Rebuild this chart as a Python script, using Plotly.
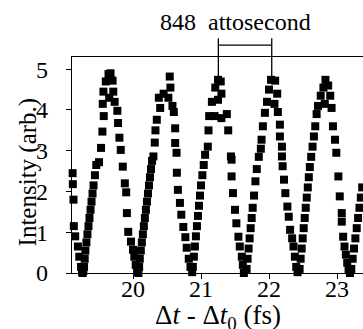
import plotly.graph_objects as go

# ---- data ----
delay_fs = [
    19.112, 19.115, 19.125, 19.13, 19.15, 19.19, 19.21, 19.235, 19.25, 19.26, 19.27,
    19.28, 19.29, 19.30, 19.315, 19.33, 19.345, 19.36, 19.375, 19.39, 19.405, 19.42, 19.44, 19.46, 19.50, 19.53, 19.55,
    19.57, 19.555, 19.565, 19.60, 19.64, 19.67, 19.70, 19.71, 19.65, 19.73, 19.77,
    19.78, 19.80, 19.82, 19.85, 19.88, 19.90, 19.91, 19.93, 19.97, 20.00, 20.02, 20.04, 20.06, 20.08,
    20.09, 20.10, 20.115, 20.13, 20.145, 20.16, 20.175, 20.19, 20.205, 20.22, 20.235, 20.25, 20.265, 20.28, 20.30, 20.32, 20.33, 20.35,
    20.40, 20.38, 20.45, 20.52, 20.55, 20.54, 20.58, 20.60,
    20.62, 20.62, 20.64, 20.645, 20.66, 20.69, 20.71, 20.74, 20.77, 20.79, 20.82, 20.845, 20.87,
    20.88, 20.895, 20.91, 20.925, 20.94, 20.955, 20.97, 20.985, 21.00, 21.02, 21.04, 21.06, 21.10, 21.11,
    21.12, 21.20, 21.30, 21.16, 21.25, 21.30, 21.21, 21.25, 21.29, 21.38,
    21.40, 21.44, 21.45, 21.45, 21.47, 21.50, 21.52, 21.55, 21.57, 21.60, 21.615, 21.63,
    21.67, 21.685, 21.70, 21.715, 21.73, 21.745, 21.76, 21.78, 21.80, 21.82, 21.85, 21.88, 21.89, 21.91, 21.94,
    21.97, 22.00, 22.03, 22.09, 22.12, 22.08, 22.13,
    22.16, 22.16, 22.19, 22.19, 22.20, 22.22, 22.24, 22.27, 22.29, 22.31, 22.34, 22.36, 22.38, 22.40, 22.42,
    22.45, 22.465, 22.48, 22.495, 22.51, 22.525, 22.54, 22.555, 22.57, 22.585, 22.60, 22.62, 22.64, 22.66, 22.68, 22.70,
    22.72, 22.76, 22.80, 22.83, 22.87, 22.90, 22.82, 22.92,
    22.94, 22.97, 22.99, 23.02, 23.04, 23.07, 23.07, 23.09, 23.11, 23.13, 23.15, 23.17, 23.19,
    23.21, 23.23, 23.25, 23.27, 23.29, 23.31, 23.33, 23.35, 23.37, 23.39,
]
intensity = [
    2.45, 2.18, 1.80, 1.15, 0.90, 0.65, 0.40, 0.15, 0.02, 0.0, 0.05,
    0.15, 0.35, 0.55, 0.75, 0.95, 1.15, 1.35, 1.55, 1.75, 1.95, 2.15, 2.40, 2.65, 2.72, 3.07, 3.47,
    3.85, 4.15, 4.45, 4.70, 4.88, 4.90, 4.72, 4.45, 4.30, 4.20, 3.98,
    3.68, 3.32, 3.02, 2.61, 2.20, 1.98, 1.47, 1.01, 0.77, 0.57, 0.40, 0.20, 0.03, 0.0,
    0.15, 0.35, 0.55, 0.75, 0.95, 1.15, 1.35, 1.55, 1.75, 1.95, 2.15, 2.35, 2.55, 2.75, 2.86, 3.20, 3.50, 3.76,
    4.05, 4.30, 4.40, 4.30, 4.55, 4.82, 4.10, 3.95,
    3.55, 3.19, 2.95, 2.46, 2.04, 1.72, 1.43, 1.13, 0.88, 0.62, 0.35, 0.15, 0.02,
    0.15, 0.40, 0.65, 0.90, 1.15, 1.40, 1.65, 1.90, 2.15, 2.40, 2.65, 2.90, 3.10, 3.50,
    3.85, 3.85, 3.80, 4.20, 4.25, 4.40, 4.55, 4.74, 4.70, 3.90,
    3.50, 2.86, 2.78, 2.37, 1.96, 1.55, 1.22, 0.89, 0.65, 0.40, 0.20, 0.0,
    0.10, 0.35, 0.60, 0.85, 1.10, 1.35, 1.60, 1.90, 2.25, 2.55, 2.85, 3.05, 3.27, 3.60, 3.93,
    4.20, 4.50, 4.74, 4.72, 4.40, 4.15, 3.95,
    3.64, 3.35, 3.10, 2.86, 2.62, 2.29, 1.96, 1.63, 1.38, 1.06, 0.85, 0.65, 0.40, 0.15, 0.02,
    0.10, 0.35, 0.60, 0.85, 1.10, 1.35, 1.60, 1.85, 2.10, 2.35, 2.60, 2.85, 3.10, 3.35, 3.60, 3.90,
    4.10, 4.35, 4.55, 4.74, 4.60, 4.35, 4.15, 4.05,
    3.60, 3.27, 2.95, 2.37, 1.88, 1.47, 1.26, 0.89, 0.65, 0.45, 0.25, 0.10, 0.0,
    0.10, 0.35, 0.60, 0.85, 1.10, 1.35, 1.60, 1.85, 2.10, 2.35,
]
x_ticks = [20, 21, 22, 23]
y_ticks = [0, 1, 2, 3, 4, 5]
x_range = [19.103, 23.382]
y_range = [0, 5.3]

# bracket marking one period (data units)
bracket_x = [21.255, 22.04]
bracket_top = 5.76
bracket_bar = 5.59
bracket_bottom = 4.82
bracket_label = "848\u00a0\u00a0attosecond"
label_x = 21.5
label_y = 6.17

FONT = "Liberation Serif"
FS = 24

fig = go.Figure()
fig.add_trace(go.Scatter(
    x=delay_fs, y=intensity, mode="markers",
    marker=dict(symbol="square", size=8, color="black", line=dict(width=0)),
    cliponaxis=False, showlegend=False, hoverinfo="skip",
))

line_style = dict(color="black", width=1.3)
ymax = y_range[1]
shapes = []
for bx in bracket_x:
    shapes.append(dict(type="line", xref="x", yref="paper", x0=bx, x1=bx,
                       y0=bracket_bottom / ymax, y1=bracket_top / ymax, line=line_style))
shapes.append(dict(type="line", xref="x", yref="paper", x0=bracket_x[0], x1=bracket_x[1],
                   y0=bracket_bar / ymax, y1=bracket_bar / ymax, line=line_style))

annotations = [
    dict(text=bracket_label, xref="x", yref="paper", x=label_x, y=label_y / ymax,
         showarrow=False, xanchor="center", yanchor="middle",
         font=dict(family=FONT, size=FS, color="black")),
    dict(text="Intensity (arb.)", xref="paper", yref="paper", x=-0.148, y=0.47,
         textangle=-90, showarrow=False, xanchor="center", yanchor="middle",
         font=dict(family=FONT, size=25, color="black")),
    dict(text="\u0394<i>t</i> - \u0394<i>t</i><sub>0</sub> (fs)", xref="paper", yref="paper",
         x=0.5, y=-0.205, showarrow=False, xanchor="center", yanchor="middle",
         font=dict(family=FONT, size=27, color="black")),
]

fig.update_layout(
    width=363, height=329,
    margin=dict(l=72, r=0, t=57, b=56, pad=0),
    paper_bgcolor="white", plot_bgcolor="white",
    font=dict(family=FONT, size=FS, color="black"),
    shapes=shapes, annotations=annotations,
    xaxis=dict(range=x_range, tickvals=x_ticks, showgrid=False, zeroline=False,
               showline=True, linecolor="black", linewidth=1.2, mirror=True,
               ticks="outside", ticklen=5, tickwidth=1.2, tickcolor="black",
               ticklabelstandoff=-11,
               tickfont=dict(family=FONT, size=FS, color="black")),
    yaxis=dict(range=y_range, tickvals=y_ticks, showgrid=False, zeroline=False,
               showline=True, linecolor="black", linewidth=1.2,
               ticks="outside", ticklen=5, tickwidth=1.2, tickcolor="black",
               ticklabelstandoff=13,
               tickfont=dict(family=FONT, size=FS, color="black")),
)

fig.write_html("out.html", config={"displayModeBar": False},
               post_script="document.body.style.margin='0';")
